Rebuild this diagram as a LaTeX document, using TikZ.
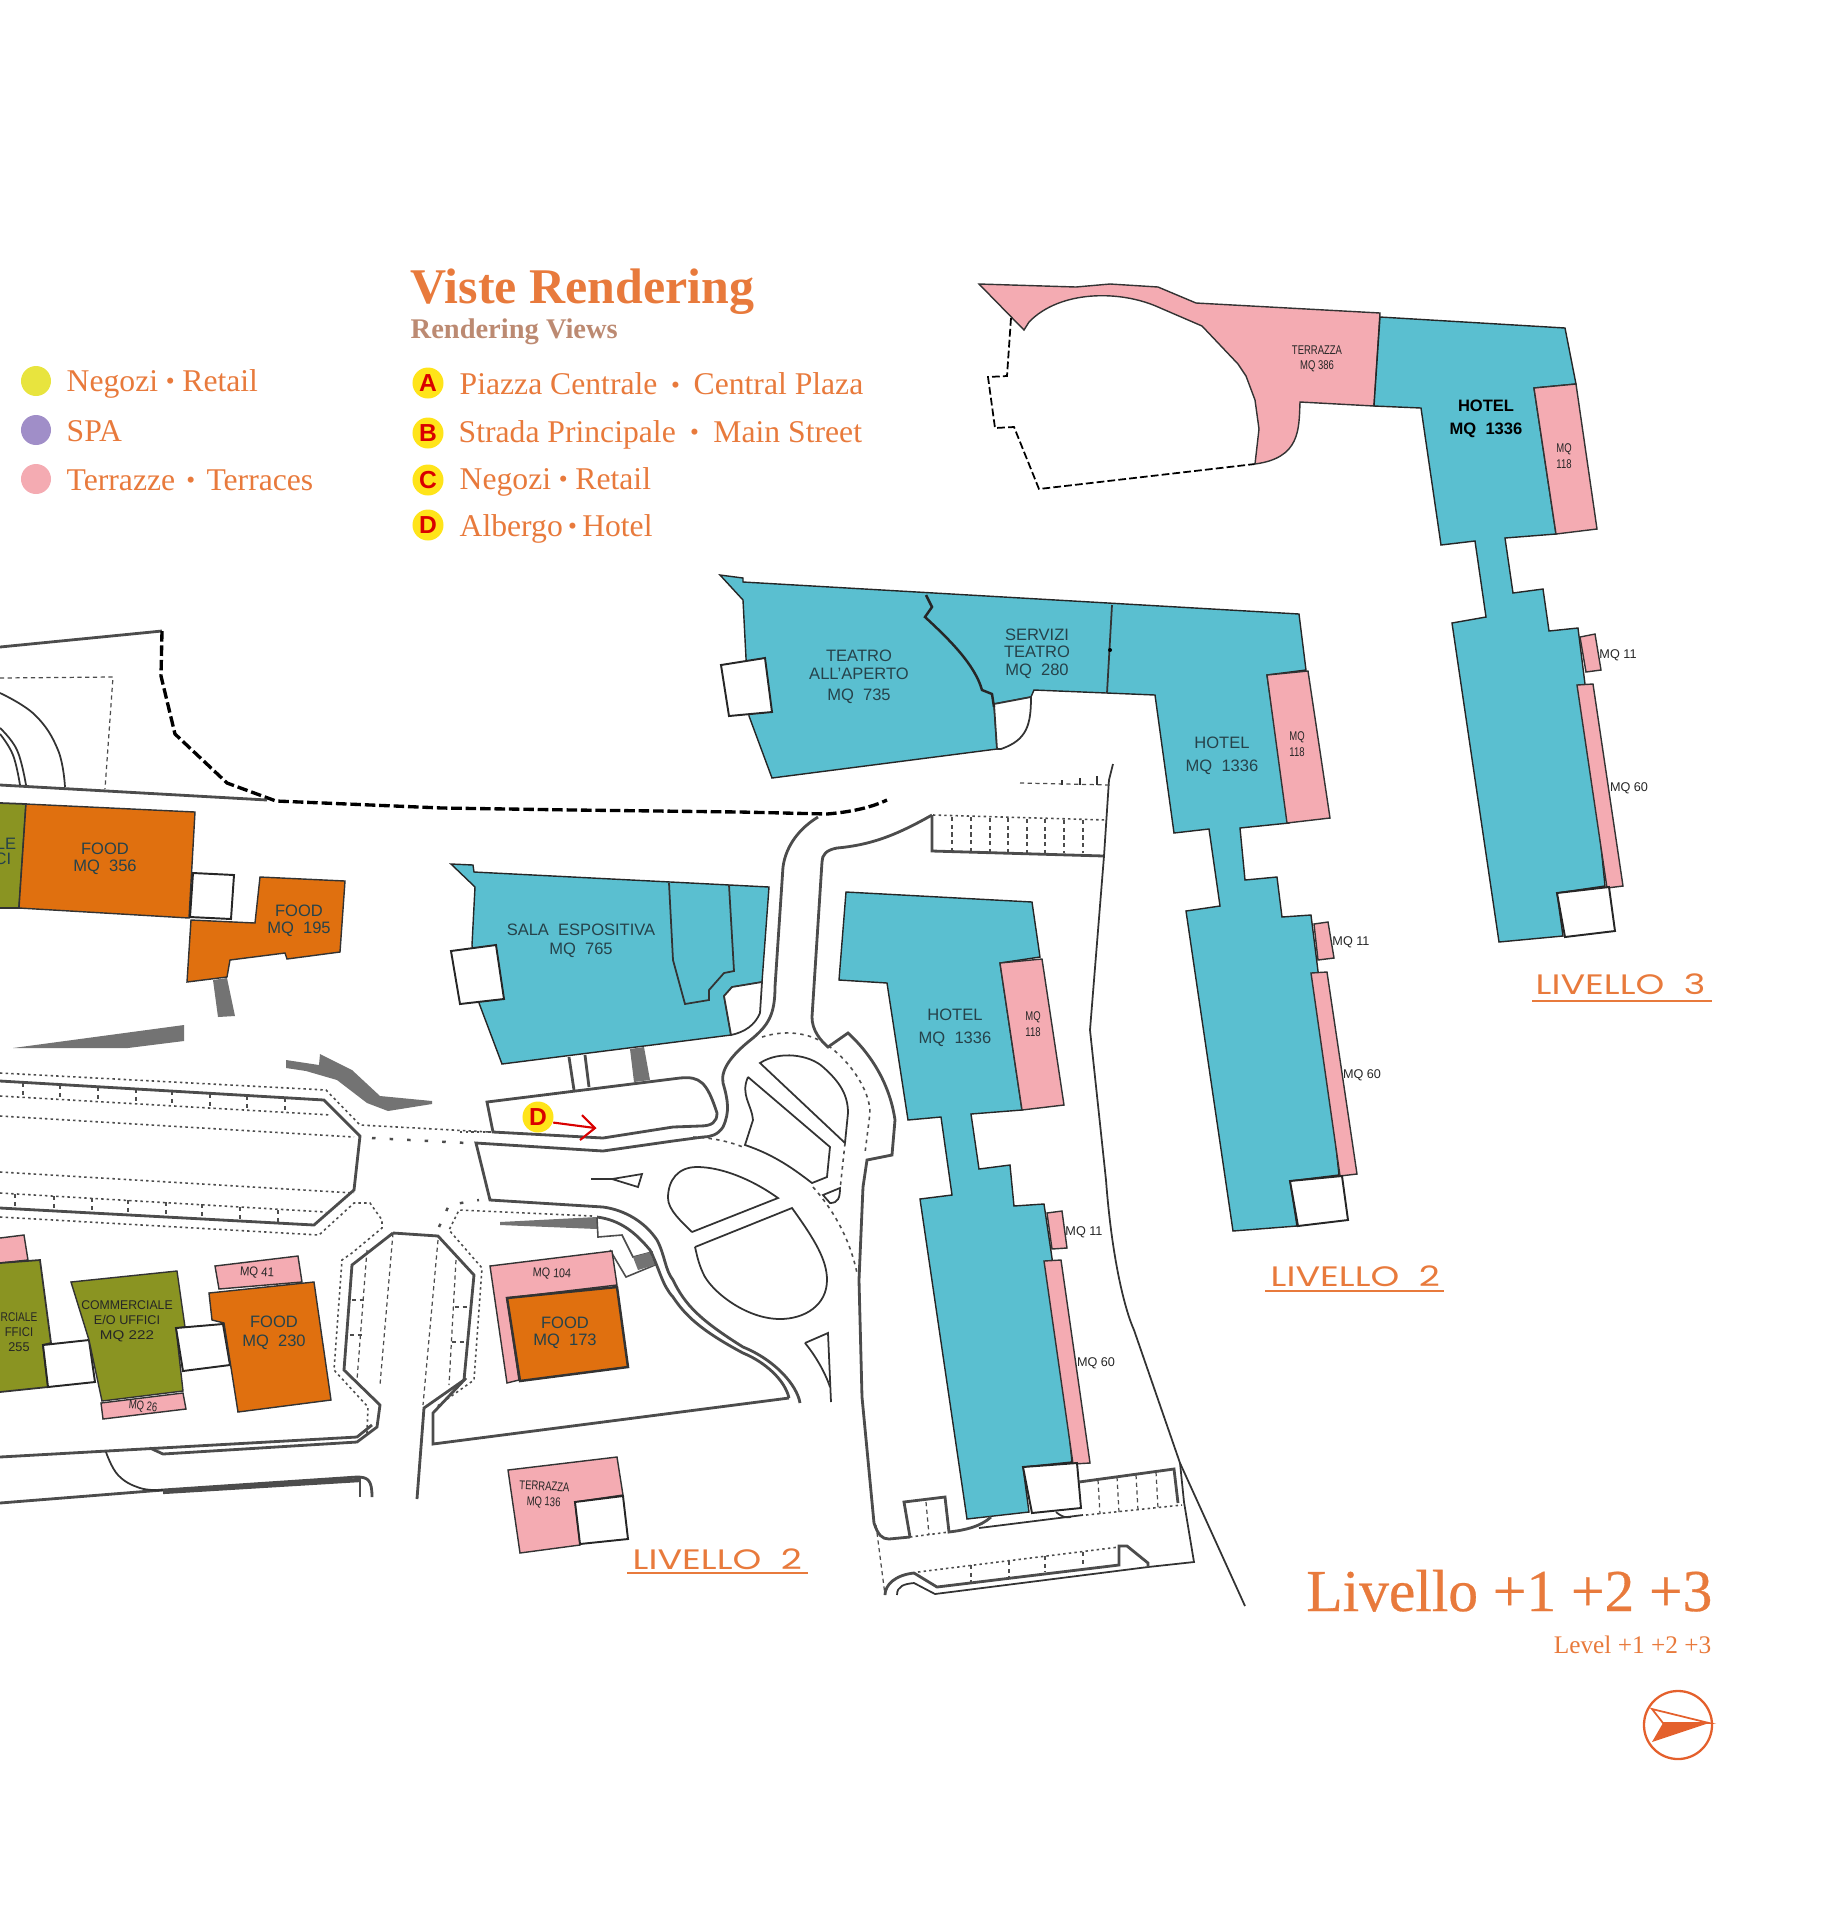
\documentclass[tikz,border=0pt]{standalone}
\usepackage{fontspec}
\setmainfont{Liberation Serif}
\setsansfont{Liberation Sans}
\newfontfamily\levelfont{Poppins}
\newfontfamily\heavyserif[FakeBold=.5]{Liberation Serif}
\usetikzlibrary{%
  positioning,%
  shapes.geometric%
}
\definecolor{tealfill}{HTML}{5ABFD0}
\definecolor{pinkfill}{HTML}{F4ABB2}
\definecolor{foodfill}{HTML}{E0700F}
\definecolor{shopfill}{HTML}{8A9422}
\definecolor{textorange}{HTML}{E87A3C}
\definecolor{viewgrey}{HTML}{BC8A72}
\definecolor{markyellow}{HTML}{FFE419}
\definecolor{retailyellow}{HTML}{E8E43E}
\definecolor{spaviolet}{HTML}{A08EC8}
\definecolor{compassred}{HTML}{E4602C}
\definecolor{cadgrey}{HTML}{4C4C4C}
\definecolor{cadink}{HTML}{26424A}
\newcommand{\sepdot}[1][.7pt]{\,\hspace{#1}\raisebox{.12ex}{\scalebox{.8}{•}}\hspace{#1}\,}
\newcommand{\slim}[1]{\scalebox{.75}[1]{#1}}
\newcommand{\levelname}[1]{\scalebox{1.3}[1]{#1}}

\begin{document}
\begin{tikzpicture}[x=0.01cm,y=-0.01cm,
	hotelarea/.style={fill=tealfill,draw=black!85,line width=.4pt,line join=miter},
	terracearea/.style={fill=pinkfill,draw=black!80,line width=.4pt},
	foodarea/.style={fill=foodfill,draw=black!80,line width=.4pt},
	shoparea/.style={fill=shopfill,draw=black!80,line width=.4pt},
	voidarea/.style={fill=white,draw=black!85,line width=.55pt},
	roadline/.style={draw=cadgrey,line width=.8pt},
	thinline/.style={draw=black!80,line width=.5pt},
	dotline/.style={draw=cadgrey,line width=.45pt,dash pattern=on .7pt off .9pt},
	tickline/.style={draw=cadgrey,line width=.35pt,dash pattern=on 1.2pt off 1pt},
	limitline/.style={draw=black,line width=.95pt,dash pattern=on 3pt off 1.1pt},
	stairfill/.style={fill=black!55,draw=none},
	cadtext/.style={font=\sffamily\fontsize{4.7}{5}\selectfont,text=cadink,inner sep=0pt,yshift=-.5pt},
	smalltext/.style={font=\sffamily\fontsize{3.6}{4}\selectfont,text=black!85,inner sep=0pt},
	leveltext/.style={font=\levelfont\fontsize{8}{9}\selectfont,text=textorange,anchor=west,inner sep=0pt},
	legendtext/.style={font=\fontsize{9}{10}\selectfont,text=textorange,anchor=west,inner sep=0pt},
	colourdot/.style={circle,minimum size=30*0.2845pt,inner sep=0pt},
	viewmark/.style={circle,fill=markyellow,minimum size=31*0.2845pt,inner sep=0pt,text=red!85!black,font=\sffamily\bfseries\fontsize{7}{8}\selectfont},
	levelrule/.style={draw=textorange,line width=.6pt}
]
\useasboundingbox (0,0) rectangle (1820,1920);

% titles and legends
\node (titleViews) [anchor=base west,inner sep=0pt,text=textorange,font=\bfseries\fontsize{14.2}{16}\selectfont] at (410,303) {Viste Rendering};
\node (subViews) [anchor=base west,inner sep=0pt,text=viewgrey,font=\bfseries\fontsize{8.1}{9}\selectfont] at (410,338) {Rendering Views};
\node (dotRetail) [colourdot,fill=retailyellow] at (36,381) {};
\node (dotSpa) [colourdot,fill=spaviolet] at (36,430) {};
\node (dotTerrace) [colourdot,fill=pinkfill] at (36,479) {};
\node (txtRetail) [legendtext] at (66,384) {Negozi\sepdot Retail};
\node (txtSpa) [legendtext] at (66,431) {SPA};
\node (txtTerrace) [legendtext] at (66,480) {Terrazze\sepdot[1.7pt]Terraces};
\node (markA) [viewmark] at (428,383) {A};
\node (markB) [viewmark] at (428,433) {B};
\node (markC) [viewmark] at (428,480) {C};
\node (markD) [viewmark] at (428,525) {D};
\node (txtA) [legendtext] at (459,384) {Piazza Centrale\sepdot[2.4pt]Central Plaza};
\node (txtB) [legendtext] at (458,435) {Strada Principale\sepdot[2.6pt]Main Street};
\node (txtC) [legendtext] at (459,482) {Negozi\sepdot Retail};
\node (txtD) [legendtext] at (459,529) {Albergo\sepdot[0pt]Hotel};

% boundary at the top left
\draw[roadline] (0,647) -- (162,631);
\draw[limitline] (162,631) -- (161,676) -- (175,734) -- (227,783) -- (276,801) -- (442,808) -- (574,810) -- (740,812) -- (827,814) .. controls (850,812) and (870,808) .. (887,800);
\draw[roadline] (0,785) -- (267,800);
\draw[tickline] (0,678) -- (113,677) -- (105,789);
\draw[thinline] plot[smooth,tension=.7] coordinates {(0,693) (35,715) (58,750) (65,787)};
\draw[thinline] plot[smooth,tension=.7] coordinates {(0,728) (17,750) (26,785)};
\draw[thinline] plot[smooth,tension=.7] coordinates {(0,734) (13,755) (20,785)};

% livello 3
\draw[limitline,line width=.5pt,dash pattern=on 2.2pt off .9pt] (1011,318) -- (1007,376) -- (988,377) -- (995,428) -- (1014,427) -- (1039,489) -- (1255,464);
\draw[terracearea] (979,284) -- (1076,287) -- (1110,284) -- (1158,287) -- (1196,303) -- (1380,313) -- (1374,406) -- (1300,402) .. controls (1299,430) and (1300,458) .. (1255,464) -- (1259,429) -- (1255,400) -- (1246,376) -- (1238,364) -- (1202,326) -- (1158,307) .. controls (1120,290) and (1060,290) .. (1029,322) -- (1024,330) -- cycle;
\draw[hotelarea] (1380,317) -- (1565,328) -- (1576,384) -- (1534,388) -- (1556,534) -- (1505,538) -- (1513,593) -- (1543,589) -- (1549,631) -- (1578,628) -- (1585,684) -- (1605,886) -- (1557,893) -- (1563,936) -- (1499,942) -- (1452,623) -- (1486,617) -- (1475,541) -- (1441,545) -- (1421,408) -- (1374,406) -- cycle;
\draw[terracearea] (1534,388) -- (1576,384) -- (1597,529) -- (1556,534) -- cycle;
\draw[terracearea] (1580,637) -- (1595,634) -- (1601,670) -- (1586,672) -- cycle;
\draw[terracearea] (1577,685) -- (1593,684) -- (1623,886) -- (1607,888) -- cycle;
\draw[voidarea] (1557,893) -- (1609,887) -- (1615,931) -- (1565,937) -- cycle;
\node (terrL3) [smalltext,align=center] at (1317,359) {\slim{TERRAZZA}\\[.2pt]\slim{MQ 386}};
\node (hotelL3) [cadtext,align=center,text=black,font=\sffamily\bfseries\fontsize{4.7}{5}\selectfont] at (1486,417) {HOTEL\\[1.5pt]MQ\ \ 1336};
\node (mqL3a) [smalltext,align=center] at (1564,456) {\slim{MQ}\\[.6pt]\slim{118}};
\node (mqL3b) [smalltext] at (1618,655) {MQ\ 11};
\node (mqL3c) [smalltext] at (1629,788) {MQ\ 60};
\node (levelThree) [leveltext] at (1535,984) {\levelname{LIVELLO\ \ 3}};
\draw[levelrule] (1532,1001) -- (1712,1001);

% livello 2, teatro and hotel
\draw[hotelarea] (720,575) -- (743,578) -- (743,582) -- (1299,614) -- (1306,670) -- (1267,675) -- (1289,823) -- (1240,828) -- (1245,880) -- (1277,877) -- (1282,917) -- (1311,915) -- (1318,971) -- (1339,1175) -- (1290,1181) -- (1297,1226) -- (1233,1231) -- (1186,911) -- (1220,906) -- (1209,829) -- (1174,833) -- (1155,695) -- (1034,690) -- (1031,697) -- (994,704) -- (997,749) -- (772,778) -- (749,716) -- (743,600) -- cycle;
\draw[thinline,fill=white] (994,704) -- (1031,697) .. controls (1031,725) and (1027,740) .. (1001,749) -- (997,749) -- cycle;
\draw[voidarea] (721,665) -- (765,658) -- (772,712) -- (729,716) -- cycle;
\draw[draw=black!85,line width=.7pt] (926,595) -- (932,607) -- (925,617) .. controls (950,640) and (975,665) .. (982,690) -- (992,694) -- (994,707);
\draw[thinline] (1112,605) -- (1107,693);
\fill[black] (1110,650) circle (2);
\draw[terracearea] (1267,675) -- (1308,671) -- (1330,818) -- (1287,823) -- cycle;
\draw[terracearea] (1314,924) -- (1328,922) -- (1334,958) -- (1318,960) -- cycle;
\draw[terracearea] (1311,973) -- (1327,972) -- (1357,1174) -- (1340,1176) -- cycle;
\draw[voidarea] (1290,1181) -- (1342,1176) -- (1348,1220) -- (1298,1226) -- cycle;
\node (teatroA) [cadtext,align=center] at (859,675) {TEATRO\\ALL'APERTO\\[1pt]MQ\ \ 735};
\node (teatroB) [cadtext,align=center] at (1037,652) {SERVIZI\\TEATRO\\MQ\ \ 280};
\node (hotelL2) [cadtext,align=center] at (1222,754) {HOTEL\\[1.3pt]MQ\ \ 1336};
\node (mqL2a) [smalltext,align=center] at (1297,744) {\slim{MQ}\\[.6pt]\slim{118}};
\node (mqL2b) [smalltext] at (1351,942) {MQ\ 11};
\node (mqL2c) [smalltext] at (1362,1075) {MQ\ 60};
\node (levelTwoA) [leveltext] at (1270,1276) {\levelname{LIVELLO\ \ 2}};
\draw[levelrule] (1265,1291) -- (1444,1291);

% livello 1, hotel
\draw[hotelarea] (846,892) -- (1032,902) -- (1040,957) -- (1000,963) -- (1022,1110) -- (971,1114) -- (979,1169) -- (1010,1165) -- (1014,1206) -- (1044,1204) -- (1052,1258) -- (1072,1462) -- (1023,1467) -- (1029,1512) -- (967,1519) -- (920,1199) -- (952,1195) -- (941,1117) -- (908,1120) -- (887,983) -- (839,980) -- cycle;
\draw[terracearea] (1000,963) -- (1042,959) -- (1064,1105) -- (1022,1110) -- cycle;
\draw[terracearea] (1047,1213) -- (1062,1211) -- (1067,1248) -- (1052,1249) -- cycle;
\draw[terracearea] (1044,1261) -- (1061,1260) -- (1090,1463) -- (1073,1464) -- cycle;
\draw[voidarea] (1023,1467) -- (1077,1463) -- (1081,1508) -- (1032,1513) -- cycle;
\node (hotelL1) [cadtext,align=center] at (955,1026) {HOTEL\\[1.3pt]MQ\ \ 1336};
\node (mqL1a) [smalltext,align=center] at (1033,1024) {\slim{MQ}\\[.6pt]\slim{118}};
\node (mqL1b) [smalltext] at (1084,1232) {MQ\ 11};
\node (mqL1c) [smalltext] at (1096,1363) {MQ\ 60};

% sala espositiva
\draw[hotelarea] (451,864) -- (473,865) -- (474,872) -- (769,887) -- (762,982) -- (732,987) -- (724,996) -- (731,1035) -- (502,1064) -- (479,1003) -- (472,945) -- (475,887) -- cycle;
\draw[thinline] (669,883) -- (673,960) -- (685,1004) -- (709,1000) -- (709,990) -- (724,973) -- (734,971) -- (729,885);
\draw[thinline,fill=white] (732,987) -- (762,982) -- (760,1013) .. controls (755,1025) and (745,1032) .. (731,1035) -- (724,996) -- cycle;
\draw[voidarea] (451,951) -- (496,945) -- (504,999) -- (460,1004) -- cycle;
\node (salaEsp) [cadtext,align=center] at (581,939) {SALA\ \ ESPOSITIVA\\[.2pt]MQ\ \ 765};

% food and shops, upper row
\fill[shopfill] (0,803) -- (26,804) -- (19,908) -- (0,908) -- cycle;
\draw[thinline] (0,803) -- (26,804) -- (19,908) -- (0,908);
\draw[foodarea] (26,804) -- (195,812) -- (189,918) -- (19,908) -- cycle;
\draw[voidarea] (193,873) -- (234,875) -- (231,919) -- (190,917) -- cycle;
\draw[foodarea] (260,877) -- (345,881) -- (340,952) -- (287,959) -- (285,953) -- (230,960) -- (227,977) -- (187,982) -- (191,920) -- (255,923) -- cycle;
\node (labLe) [cadtext] at (6,842) {LE};
\node (labCi) [cadtext] at (3,857) {CI};
\node (food356) [cadtext,align=center] at (105,857) {FOOD\\[.1pt]MQ\ \ 356};
\node (food195) [cadtext,align=center] at (299,919) {FOOD\\MQ\ \ 195};
\fill[stairfill] (213,980) -- (227,978) -- (235,1016) -- (218,1017) -- cycle;
\fill[stairfill] (13,1048) -- (184,1025) -- (184,1041) -- (128,1048) -- cycle;
\fill[stairfill] (286,1060) -- (319,1065) -- (320,1054) -- (352,1070) -- (380,1096) -- (432,1101) -- (432,1104) -- (388,1111) -- (367,1103) -- (337,1080) -- (306,1071) -- (286,1068) -- cycle;
\fill[stairfill] (630,1049) -- (644,1047) -- (650,1080) -- (634,1082) -- cycle;

% long road at the left, with its parking
\draw[roadline] (0,1081) -- (324,1100) -- (360,1136) -- (354,1190) -- (314,1225) -- (0,1208);
\draw[dotline] (0,1073) -- (326,1090) -- (360,1125) -- (490,1132);
\draw[dotline] (0,1096) -- (331,1115);
\draw[dotline] (0,1116) -- (354,1137);
\draw[dotline,dash pattern=on 1pt off 4pt,line width=.7pt] (372,1138) -- (467,1143);
\draw[dotline] (0,1172) -- (354,1193);
\draw[dotline] (0,1193) -- (326,1212);
\draw[dotline] (0,1217) -- (319,1235) -- (354,1203) -- (370,1203) -- (382,1220) -- (382,1228) -- (352,1253) -- (342,1260) -- (334,1370) -- (368,1407) -- (367,1433);
\foreach \tx/\ta/\tb in {23/1083/1097,60/1085/1099,98/1087/1101,136/1089/1104,172/1091/1106,210/1094/1108,247/1096/1111,285/1098/1113}{
	\draw[tickline] (\tx,\ta) -- (\tx,\tb);
}
\foreach \tx/\ta/\tb in {15/1194/1209,54/1196/1211,92/1198/1214,128/1200/1216,166/1202/1218,202/1204/1220,240/1207/1222,278/1210/1224}{
	\draw[tickline] (\tx,\ta) -- (\tx,\tb);
}

% central crossing
\draw[roadline] (393,1233) -- (352,1265) -- (344,1370) -- (380,1405) -- (377,1427) -- (357,1442) -- (163,1454) -- (150,1448);
\draw[roadline] (0,1457) -- (357,1437) -- (372,1425);
\draw[roadline] (393,1233) -- (438,1236) -- (474,1275) -- (464,1380) -- (424,1408) -- (417,1499);
\draw[roadline] (466,1378) -- (433,1413) -- (433,1444) -- (789,1398);
\draw[roadline] (0,1503) -- (163,1490) -- (357,1477) .. controls (368,1477) and (372,1480) .. (372,1497);
\draw[roadline] (360,1477) -- (360,1497);
\draw[roadline,line width=1.2pt] (163,1492) -- (360,1480);
\draw[thinline] plot[smooth,tension=.7] coordinates {(106,1452) (118,1475) (140,1488) (163,1490)};
\draw[tickline] (393,1233) -- (380,1385);
\draw[tickline] (367,1250) -- (357,1380);
\draw[tickline] (352,1300) -- (367,1300);
\draw[tickline] (350,1335) -- (365,1335);
\draw[tickline] (438,1240) -- (423,1405);
\draw[tickline] (456,1260) -- (449,1385);
\draw[tickline] (455,1307) -- (470,1307);
\draw[tickline] (452,1342) -- (468,1342);
\draw[dotline] (592,1216) -- (459,1210) -- (449,1230) -- (482,1268) -- (474,1380) -- (436,1407);
\draw[dotline,dash pattern=on 1pt off 4pt,line width=.7pt] (439,1227) -- (449,1205) -- (479,1200);

% plots left of the crossing
\draw[terracearea] (0,1238) -- (24,1235) -- (28,1260) -- (0,1263);
\fill[shopfill] (0,1263) -- (40,1260) -- (51,1343) -- (43,1345) -- (48,1387) -- (0,1392) -- cycle;
\draw[thinline] (0,1263) -- (40,1260) -- (51,1343) -- (43,1345) -- (48,1387) -- (0,1392);
\draw[voidarea] (43,1345) -- (89,1340) -- (95,1382) -- (48,1387) -- cycle;
\draw[shoparea] (71,1282) -- (177,1271) -- (185,1327) -- (176,1328) -- (183,1391) -- (102,1401) -- (89,1340) -- cycle;
\draw[voidarea] (176,1328) -- (223,1324) -- (230,1365) -- (183,1371) -- cycle;
\draw[terracearea] (101,1403) -- (183,1393) -- (186,1409) -- (103,1419) -- cycle;
\draw[terracearea] (215,1266) -- (298,1256) -- (302,1282) -- (219,1289) -- cycle;
\draw[foodarea] (209,1293) -- (314,1282) -- (331,1400) -- (238,1412) -- (224,1323) -- (212,1320) -- cycle;
\node (shopA) [smalltext,align=center,anchor=east] at (38,1332) {\scalebox{.8}[1]{RCIALE}\\[.3pt]\scalebox{.9}[1]{FFICI}\\[.3pt]255};
\node (shopB) [smalltext,align=center] at (127,1321) {\scalebox{.97}[1]{COMMERCIALE}\\[.2pt]E/O\ UFFICI\\[.2pt]\scalebox{1.2}[1]{MQ\ 222}};
\node (mq26) [smalltext,rotate=-5] at (143,1407) {\slim{MQ\ 26}};
\node (mq41) [smalltext,rotate=-3] at (257,1273) {\scalebox{.9}[1]{MQ\ 41}};
\node (food230) [cadtext,align=center] at (274,1331) {FOOD\\[.5pt]MQ\ \ 230};

% plots right of the crossing
\fill[stairfill] (500,1222) -- (597,1217) -- (597,1229) -- (500,1225) -- cycle;
\draw[roadline,line width=.45pt] (597,1218) -- (598,1237) -- (622,1235) -- (633,1257) -- (652,1252) -- (655,1265) -- (626,1277) -- (610,1250);
\fill[stairfill] (633,1257) -- (650,1252) -- (655,1265) -- (638,1270) -- cycle;
\draw[terracearea] (490,1266) -- (612,1251) -- (617,1285) -- (507,1298) -- (519,1380) -- (507,1383) -- cycle;
\draw[foodarea,line width=.7pt] (507,1298) -- (617,1287) -- (628,1367) -- (520,1381) -- cycle;
\node (mq104) [smalltext,rotate=-3] at (552,1274) {\scalebox{.85}[1]{MQ\ 104}};
\node (food173) [cadtext,align=center] at (565,1331) {FOOD\\MQ\ \ 173};
\draw[terracearea] (508,1470) -- (617,1457) -- (623,1495) -- (575,1502) -- (580,1545) -- (520,1553) -- cycle;
\draw[voidarea] (575,1502) -- (623,1496) -- (628,1539) -- (580,1544) -- cycle;
\node (terr136) [smalltext,align=center,rotate=-3] at (544,1495) {\slim{TERRAZZA}\\[.4pt]\slim{MQ 136}};
\node (levelTwoB) [leveltext] at (632,1559) {\levelname{LIVELLO\ \ 2}};
\draw[levelrule] (627,1573) -- (808,1573);

% plaza strip and marker
\draw[roadline] (574,1090) -- (569,1057);
\draw[roadline] (589,1087) -- (585,1055);
\draw[roadline] (493,1132) -- (487,1102) -- (680,1078) .. controls (700,1076) and (707,1082) .. (717,1113) .. controls (717,1122) and (712,1126) .. (700,1126) -- (673,1127) -- (603,1138) -- cycle;
\draw[dotline] (460,1132) -- (493,1132);
\node (markMap) [viewmark] at (538,1117) {D};
\draw[draw=red!85!black,line width=.6pt] (markMap.-20) -- (595,1128);
\draw[draw=red!85!black,line width=.6pt] (582,1115) -- (595,1128) -- (580,1140);

% roundabout
\draw[roadline] (818,817) .. controls (800,828) and (786,845) .. (783,867) -- (775,987) .. controls (775,1015) and (768,1025) .. (753,1038) .. controls (735,1052) and (720,1068) .. (723,1083) .. controls (728,1100) and (730,1112) .. (723,1127) .. controls (718,1135) and (710,1137) .. (703,1137) -- (673,1141) -- (603,1151) -- (476,1143) -- (490,1200) -- (603,1207) .. controls (625,1210) and (645,1222) .. (657,1240) .. controls (665,1255) and (665,1270) .. (673,1280) .. controls (685,1305) and (700,1320) .. (743,1347) .. controls (775,1360) and (797,1385) .. (800,1403);
\draw[roadline] (597,1217) .. controls (620,1220) and (635,1232) .. (650,1250) .. controls (660,1270) and (662,1285) .. (673,1297) .. controls (685,1315) and (700,1330) .. (743,1353) .. controls (765,1362) and (785,1380) .. (789,1398);
\draw[roadline] (932,815) .. controls (895,836) and (870,845) .. (837,848) .. controls (826,850) and (822,855) .. (822,862) -- (812,1017) .. controls (812,1030) and (820,1040) .. (828,1047) -- (848,1033) .. controls (872,1055) and (890,1085) .. (895,1120) -- (892,1155) -- (867,1160) -- (863,1187) -- (859,1280) -- (862,1397) -- (874,1523) .. controls (878,1535) and (882,1539) .. (889,1539) -- (910,1537);
\draw[roadline] (932,815) -- (932,851) -- (1104,856);
\draw[thinline] (760,1063) .. controls (780,1050) and (810,1055) .. (823,1067) .. controls (840,1082) and (848,1095) .. (848,1113) -- (845,1143) -- cycle;
\draw[thinline] (748,1077) -- (830,1147) -- (827,1177) -- (812,1183) .. controls (795,1170) and (775,1155) .. (745,1145) -- (753,1120) .. controls (752,1105) and (740,1095) .. (748,1077);
\draw[thinline] (823,1195) -- (840,1188) .. controls (840,1198) and (838,1203) .. (830,1203) -- cycle;
\draw[thinline] (591,1179) -- (612,1179) -- (642,1174) -- (638,1187) -- (612,1179);
\draw[thinline] (692,1232) -- (778,1198) .. controls (750,1178) and (720,1167) .. (697,1167) .. controls (678,1167) and (668,1180) .. (668,1198) .. controls (668,1210) and (682,1222) .. (692,1232);
\draw[thinline] (695,1247) -- (792,1208) .. controls (815,1240) and (827,1260) .. (827,1280) .. controls (827,1305) and (805,1319) .. (780,1319) .. controls (745,1319) and (710,1290) .. (703,1273) .. controls (698,1262) and (697,1255) .. (695,1247);
\draw[thinline] (805,1343) -- (828,1333) -- (831,1402);
\draw[thinline] (805,1343) .. controls (815,1355) and (825,1372) .. (830,1387);
\draw[dotline,dash pattern=on 1pt off 1.2pt] (762,1037) .. controls (790,1028) and (815,1035) .. (830,1047) .. controls (850,1062) and (870,1090) .. (870,1113) -- (865,1153);
\draw[dotline,dash pattern=on 1pt off 1.2pt] (845,1143) -- (840,1190);
\draw[dotline,dash pattern=on 1pt off 1.2pt] (693,1137) .. controls (715,1138) and (730,1142) .. (743,1147);
\draw[dotline,dash pattern=on 1pt off 1.2pt] (813,1187) .. controls (835,1212) and (850,1240) .. (857,1273);

% road and parking at the right
\draw[thinline] (1113,764) -- (1109,780) -- (1104,856) -- (1090,1030) -- (1106,1180) .. controls (1112,1260) and (1125,1310) .. (1134,1330) -- (1180,1463) -- (1245,1606);
\draw[dotline] (933,815) -- (1107,820);
\foreach \tx/\ta in {952/817,971/817,990/818,1008/818,1027/819,1045/819,1064/820,1083/820}{
	\draw[tickline] (\tx,\ta) -- (\tx,853);
}
\draw[tickline] (1020,783) -- (1111,785);
\draw[thinline] (1062,780) -- (1062,785) (1080,778) -- (1080,785) (1097,776) -- (1097,785);

% parking at the bottom
\draw[roadline] (1079,1482) -- (1174,1469) -- (1178,1503);
\draw[dotline] (1086,1515) -- (1182,1505);
\foreach \tx/\ta/\tb in {1098/1480/1514,1117/1477/1512,1136/1475/1510,1156/1472/1508}{
	\draw[tickline] (\tx,\ta) -- (\tx+2,\tb);
}
\draw[thinline] (1180,1463) -- (1184,1502) -- (1194,1562) -- (1148,1567) -- (935,1594) -- (914,1583) .. controls (904,1584) and (897,1586) .. (897,1595);
\draw[roadline] (910,1537) -- (904,1502) -- (945,1497) -- (949,1532) .. controls (965,1530) and (980,1527) .. (991,1517);
\draw[tickline] (926,1502) -- (929,1535);
\draw[dotline] (910,1537) -- (949,1532);
\draw[thinline] (979,1528) -- (1083,1515);
\draw[thinline] (1056,1512) .. controls (1062,1517) and (1066,1518) .. (1071,1517);
\draw[tickline] (876,1525) -- (885,1595);
\draw[roadline] (885,1595) .. controls (885,1585) and (895,1575) .. (914,1573) -- (937,1587) -- (1119,1565) -- (1119,1546) -- (1127,1546) -- (1148,1563) -- (1148,1567);
\draw[dotline] (918,1572) -- (1119,1547);
\foreach \tx/\ta/\tb in {971/1565/1582,1009/1561/1577,1045/1556/1572,1083/1552/1567}{
	\draw[tickline] (\tx,\ta) -- (\tx,\tb);
}

% bottom right
\node (levelTitle) [anchor=base east,inner sep=0pt,text=textorange,font=\heavyserif\fontsize{16.9}{18}\selectfont] at (1713,1611) {Livello +1 +2 +3};
\node (levelSub) [anchor=base east,inner sep=0pt,text=textorange,font=\fontsize{7.2}{8}\selectfont] at (1712,1653) {Level +1 +2 +3};
\node (compass) [circle,draw=compassred,line width=.65pt,minimum size=68*0.2845pt,inner sep=0pt] at (1678,1725) {};
\draw[draw=compassred,line width=.5pt] (1652,1709) -- (1709,1723) -- (1663,1723) -- cycle;
\fill[compassred] (1709,1723) -- (1663,1723) -- (1652,1742) -- cycle;
\end{tikzpicture}
\end{document}
